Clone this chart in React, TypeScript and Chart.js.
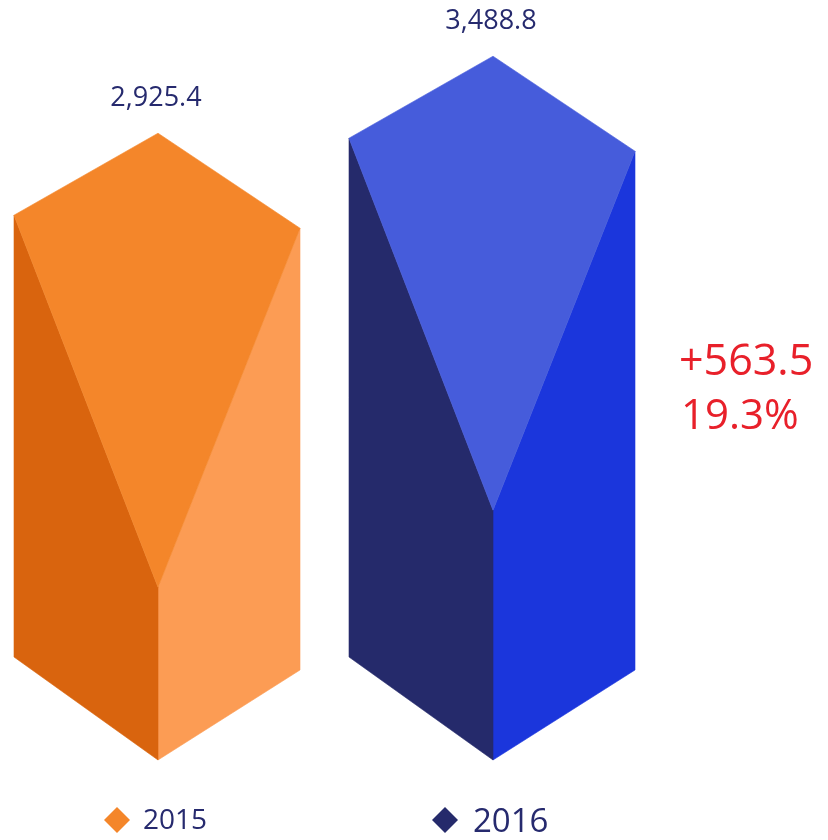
import React, { useEffect, useRef } from 'react';
import { Chart, registerables } from 'chart.js';

Chart.register(...registerables);

// ---- data ----
const categories = ['2015', '2016'];
const values = [2925.4, 3488.8];
const valueLabels = ['2,925.4', '3,488.8'];
const changeLabels = ['+563.5', '19.3%'];

// ---- palette ----
const topColors = ['#F4862A', '#465CDB'];
const leftColors = ['#D9640E', '#252A6B'];
const rightColors = ['#FC9C54', '#1B36DC'];
const legendColors = ['#F4862A', '#252A6B'];
const textNavy = '#262A6E';
const changeRed = '#E8202A';
const FONT = '"Open Sans", "Noto Sans", sans-serif';

function poly(ctx: CanvasRenderingContext2D, pts: number[][], color: string, stroke = true) {
  ctx.beginPath();
  ctx.moveTo(pts[0][0], pts[0][1]);
  for (let i = 1; i < pts.length; i++) ctx.lineTo(pts[i][0], pts[i][1]);
  ctx.closePath();
  ctx.fillStyle = color;
  ctx.fill();
  if (stroke) {
    ctx.strokeStyle = color;
    ctx.lineWidth = 0.6;
    ctx.lineJoin = 'miter';
    ctx.stroke();
  }
}

const prismPlugin = {
  id: 'prism',
  afterDatasetsDraw(chart: any) {
    const ctx: CanvasRenderingContext2D = chart.ctx;
    const meta = chart.getDatasetMeta(0);
    const baseY = chart.chartArea.bottom + 227;
    ctx.save();
    meta.data.forEach((bar: any, i: number) => {
      const cx = bar.x;
      const ty = bar.y;
      const L = cx - 144;
      const R = cx + 142;
      const lt = ty + 82;
      const rt = ty + 95;
      const v = ty + 454;
      const lb = baseY - 103;
      const rb = baseY - 90;
      poly(ctx, [[cx, v], [R, rt], [R, rb], [cx, baseY]], rightColors[i]);
      poly(ctx, [[L, lt], [cx, v], [cx, baseY], [L, lb]], leftColors[i]);
      poly(ctx, [[cx, ty], [R, rt], [cx, v], [L, lt]], topColors[i]);

      // value label
      ctx.fillStyle = textNavy;
      ctx.font = `27px ${FONT}`;
      ctx.textAlign = 'center';
      ctx.textBaseline = 'alphabetic';
      ctx.fillText(valueLabels[i], cx - 2, ty - 27);

      // legend item
      const legendSizes = [28, 33];
      const dOff = [41, 48];
      const tOff = [15, 20];
      const ly = 820;
      const dx = cx - dOff[i];
      const h = 13;
      poly(ctx, [[dx, ly - h], [dx + h, ly], [dx, ly + h], [dx - h, ly]], legendColors[i], false);
      ctx.fillStyle = textNavy;
      ctx.font = `${legendSizes[i]}px ${FONT}`;
      ctx.textAlign = 'left';
      ctx.fillText(categories[i], cx - tOff[i], i === 0 ? 829 : 832);
    });

    // change annotation
    ctx.fillStyle = changeRed;
    ctx.font = `43px ${FONT}`;
    ctx.textAlign = 'left';
    ctx.fillText(changeLabels[0], 679, 375);
    ctx.font = `42px ${FONT}`;
    ctx.fillText(changeLabels[1], 681, 429);
    ctx.restore();
  },
};

export default function App() {
  const ref = useRef<HTMLCanvasElement | null>(null);
  useEffect(() => {
    if (!ref.current) return;
    const chart = new Chart(ref.current, {
      type: 'bar',
      data: {
        labels: categories,
        datasets: [
          {
            label: 'value',
            data: values,
            backgroundColor: 'rgba(0,0,0,0)',
            borderWidth: 0,
          },
        ],
      },
      options: {
        responsive: false,
        animation: false,
        devicePixelRatio: 1,
        layout: { padding: { left: 158, right: 335, top: 0, bottom: 307 } },
        plugins: { legend: { display: false }, tooltip: { enabled: false } },
        scales: {
          x: { type: 'category', offset: false, display: false, grid: { display: false } },
          y: { type: 'linear', min: 0, max: 3900, display: false, grid: { display: false } },
        },
      },
      plugins: [prismPlugin],
    });
    return () => chart.destroy();
  }, []);
  return (
    <div style={{ position: 'fixed', left: 0, top: 0, width: 828, height: 840, background: '#fff' }}>
      <canvas ref={ref} width={828} height={840} style={{ width: 828, height: 840, display: 'block' }} />
    </div>
  );
}
